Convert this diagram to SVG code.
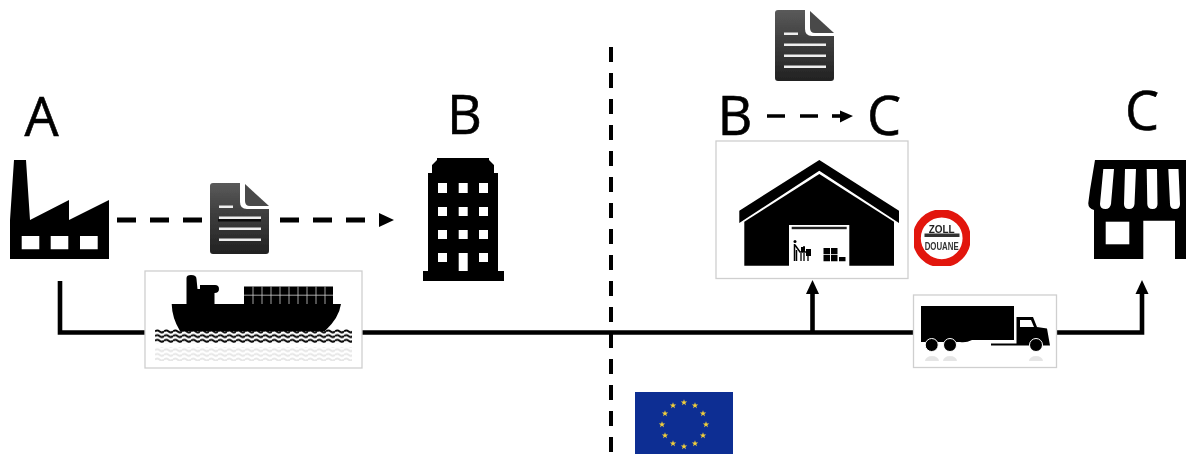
<svg xmlns="http://www.w3.org/2000/svg" width="1186" height="454" viewBox="0 0 1186 454">
<style>
.lbl{font-family:"Open Sans","Liberation Sans",sans-serif;font-size:54px;fill:#000;stroke:#000;stroke-width:0.6;text-anchor:middle}
.box{fill:#fff;stroke:#cfcfcf;stroke-width:1.3}
.conn{fill:none;stroke:#000;stroke-width:4.6}
.dash{fill:none;stroke:#000;stroke-width:4.8;stroke-dasharray:19 14}
.w{fill:#fff}
.k{fill:#000}
.soft{filter:url(#soft)}
</style>
<defs>
<filter id="soft" x="-5%" y="-5%" width="110%" height="110%"><feGaussianBlur stdDeviation="0.6"/></filter>
<linearGradient id="docg" x1="0" y1="0" x2="0" y2="1"><stop offset="0" stop-color="#5a5a5a"/><stop offset="0.45" stop-color="#3d3d3d"/><stop offset="1" stop-color="#222"/></linearGradient>
<symbol id="doc" width="59" height="71" viewBox="0 0 59 71" overflow="visible">
<path d="M3 0H30V19Q30 26 37 26H59V68Q59 71 56 71H3Q0 71 0 68V3Q0 0 3 0Z" fill="url(#docg)"/>
<path d="M35 1L59 23H40Q35 23 35 18Z" fill="#4a4a4a"/>
<path d="M9 22.500h14v2.500h-14zM9 33.500h42v2.500h-42zM9 44.500h42v2.500h-42zM9 55.500h42v2.500h-42z" fill="#eee"/>
</symbol>
<pattern id="waves" width="9" height="4.700" patternUnits="userSpaceOnUse" x="155" y="329">
<path d="M0 2.400Q2.250 0.400 4.500 2.400T9 2.400" fill="none" stroke="#000" stroke-width="2"/>
</pattern>
<polygon id="star" points="0,-3.300 0.800,-1 3.200,-1 1.300,0.400 2,2.700 0,1.300 -2,2.700 -1.300,0.400 -3.200,-1 -0.800,-1" fill="#f2cf3a"/>
</defs>

<g id="connectors" class="soft">
<path d="M611 47V454" fill="none" stroke="#000" stroke-width="4" stroke-dasharray="15 11"/>
<path class="dash" d="M117 220H208"/>
<path class="dash" d="M280 220H379"/>
<polygon class="k" points="379,213 394,220 379,227"/>
<path d="M767 116H830" fill="none" stroke="#000" stroke-width="3.600" stroke-dasharray="18 15"/>
<path d="M832 116H842" fill="none" stroke="#000" stroke-width="3.600"/>
<polygon class="k" points="840,110.500 853,116 840,122.500"/>
<path class="conn" d="M60 281V332.500H1142V293"/>
<path class="conn" d="M812.500 332.500V293"/>
<polygon class="k" points="812.500,280 806,294 819,294"/>
<polygon class="k" points="1142,280 1135.500,294 1148.500,294"/>
</g>

<g id="label-a"><text class="lbl soft" x="41.500" y="136">A</text></g>
<g id="node-factory" class="soft">
<path class="k" fill-rule="evenodd" d="M14 160H26L30 220L69 200V220L109 200V259H10V220ZM21.700 236V249.300H39.300V236ZM50.700 236V249.300H68.300V236ZM80 236V249.300H97.700V236Z"/>
</g>
<g id="node-doc-1" class="soft">
<use href="#doc" x="210" y="183"/>
<rect x="218" y="219" width="43" height="2.500" fill="#111"/>
</g>

<g id="label-b1"><text class="lbl soft" x="464.500" y="134">B</text></g>
<g id="node-building" class="soft">
<path class="k" fill-rule="evenodd" d="M437 158H489V160L494 165V173H498V271H504V281H423V271H428V173H432V165L437 160ZM438 183V193H447V183ZM458.700 183V193H467.700V183ZM479 183V193H488V183ZM438 207V216H447V207ZM458.700 207V216H467.700V207ZM479 207V216H488V207ZM438 230V239H447V230ZM458.700 230V239H467.700V230ZM479 230V239H488V230ZM438 253V262H447V253ZM458.700 253V271H467.700V253ZM479 253V262H488V253Z"/>
</g>

<g id="node-ship" class="soft">
<rect class="box" x="145" y="271" width="217" height="97"/>
<path class="k" d="M171.700 304H186.500V278Q186.500 275 191 275Q196.500 275 196.500 279L197.500 289H200V285H215Q219 285 219 289Q219 293 214.500 293V304H341Q339 318 325 331H180Q172 318 171.700 304Z"/>
<rect class="k" x="244" y="286.500" width="89" height="18"/>
<path d="M244 295.200H333M253 286.500V304M262 286.500V304M271 286.500V304M280 286.500V304M289 286.500V304M298 286.500V304M307 286.500V304M316 286.500V304M325 286.500V304" stroke="#ccc" stroke-width="0.800" fill="none"/>
<rect x="155" y="329" width="197" height="14.100" fill="url(#waves)"/>
<rect x="155" y="347" width="197" height="14" fill="url(#waves)" opacity="0.1"/>
</g>

<g id="node-doc-2" class="soft"><use href="#doc" x="775" y="10"/></g>
<g id="label-b2"><text class="lbl soft" x="735" y="135">B</text></g>
<g id="label-c1"><text class="lbl soft" x="884" y="135">C</text></g>

<g id="node-warehouse" class="soft">
<rect class="box" x="716" y="141" width="192" height="137.500"/>
<path class="k" d="M819.300 160L899 210.700V223L819.300 170.700L739.300 223V210.700Z"/>
<path class="k" d="M819.300 174L894 221.700V265.700H744.300V221.700Z"/>
<rect class="w" x="789" y="225" width="60.300" height="41"/>
<rect x="791.700" y="226.800" width="55" height="2.400" fill="#222"/>
<path class="k" d="M823.500 248h6.500v6.300h-6.500zM831 248h6.500v6.300h-6.500zM823.500 255h6.500v6.300h-6.500zM831 255h6.500v6.300h-6.500zM839 257h6.500v4.300h-6.500z"/>
<circle class="k" cx="795" cy="241.500" r="1.500"/>
<path d="M794.500 244V261M796.500 261V250M795 245L800 252H811M804 246V252" fill="none" stroke="#000" stroke-width="1.500"/>
<rect class="k" x="801" y="247" width="4" height="5"/>
<rect class="k" x="806" y="249" width="5" height="7"/>
<path d="M801 253V261M804 253V261M808 256V261" fill="none" stroke="#000" stroke-width="1.300"/>
</g>

<g id="node-customs" class="soft">
<circle cx="941.700" cy="238.300" r="25" fill="#fff" stroke="#e2140c" stroke-width="8.200"/>
<text x="941.700" y="232.800" font-family="'Liberation Sans',sans-serif" font-weight="700" font-size="11" text-anchor="middle" textLength="26" lengthAdjust="spacingAndGlyphs" fill="#222">ZOLL</text>
<rect x="924.500" y="233.500" width="35" height="3.500" fill="#333"/>
<text x="941.700" y="249.500" font-family="'Liberation Sans',sans-serif" font-weight="700" font-size="11.500" text-anchor="middle" textLength="34" lengthAdjust="spacingAndGlyphs" fill="#333">DOUANE</text>
</g>

<g id="node-truck" class="soft">
<rect class="box" x="913.500" y="295" width="143" height="72.500"/>
<path class="k" d="M921 306H1014V340H972Q966 343 960 342H921Z"/>
<path class="k" d="M1016.500 317H1033L1037 327L1047 328.500L1050 345.500H991V343.500H1016.500Z"/>
<path class="w" d="M1020 320H1031L1034 327H1020Z"/>
<circle class="k" cx="931.700" cy="345" r="6.500" stroke="#fff" stroke-width="1"/><circle class="k" cx="950" cy="345" r="6.500" stroke="#fff" stroke-width="1"/><circle class="k" cx="1036" cy="345" r="6.500" stroke="#fff" stroke-width="1"/>
<path d="M925 361a7 5 0 0 1 14 0zM943 361a7 5 0 0 1 14 0zM1029 361a7 5 0 0 1 14 0z" fill="#000" opacity="0.1"/>
</g>

<g id="label-c2"><text class="lbl soft" x="1142" y="130">C</text></g>
<g id="node-store" class="soft">
<path class="k" d="M1095 160H1186V259H1175V220.700H1143.300V259H1094V210Q1088 208 1088.300 203L1090 190Z"/>
<rect class="w" x="1105.700" y="221.700" width="23.600" height="22.600"/>
<path class="w" d="M1103.300 169H1114L1111 204Q1110 209 1105.500 209Q1100 209 1100 204ZM1125 169H1136L1134.500 204Q1134 209 1129 209Q1124 209 1124 204ZM1146.700 169H1157L1157.500 204Q1157.500 209 1152.500 209Q1147.500 209 1147.300 204ZM1168.300 169H1178.500L1180 204Q1180 209 1175 209Q1170 209 1170 204Z"/>
</g>

<g id="node-eu-flag" class="soft">
<rect x="635" y="392" width="98" height="62" fill="#0b2f93"/>
<use href="#star" x="684" y="402.500"/><use href="#star" x="695" y="405.500"/><use href="#star" x="703" y="413.500"/><use href="#star" x="706" y="424.500"/><use href="#star" x="703" y="435.500"/><use href="#star" x="695" y="443.500"/><use href="#star" x="684" y="446.500"/><use href="#star" x="673" y="443.500"/><use href="#star" x="665" y="435.500"/><use href="#star" x="662" y="424.500"/><use href="#star" x="665" y="413.500"/><use href="#star" x="673" y="405.500"/>
</g>
</svg>
